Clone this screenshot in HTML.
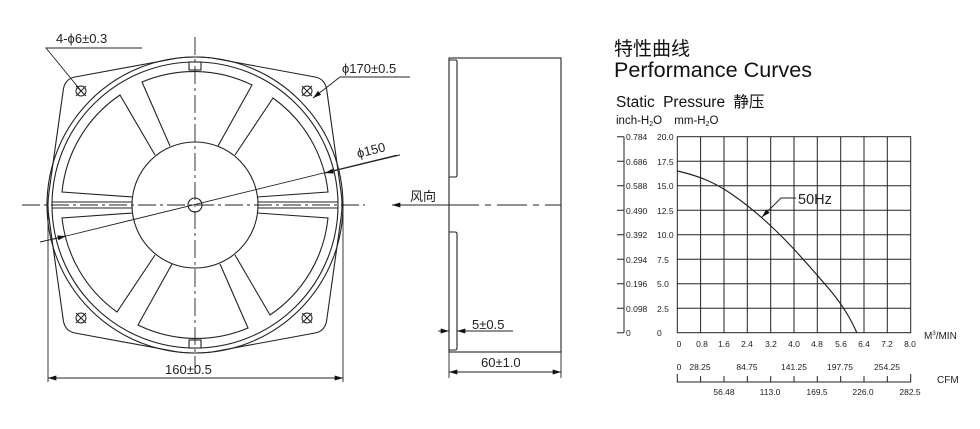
<!DOCTYPE html>
<html><head><meta charset="utf-8"><style>
html,body{margin:0;padding:0;background:#fff;}
svg{display:block;font-family:"Liberation Sans","Noto Sans CJK SC",sans-serif;}
</style></head><body>
<svg width="980" height="429" viewBox="0 0 980 429" xmlns="http://www.w3.org/2000/svg">
<defs>
<marker id="ar" viewBox="0 0 10 6" refX="10" refY="3" markerWidth="9" markerHeight="5" orient="auto-start-reverse" markerUnits="userSpaceOnUse"><path d="M0,0 L10,3 L0,6 Z" fill="#111"/></marker>
</defs>
<g fill="none" stroke="#222" stroke-width="1.1">
<path d="M75,77 L178,58 Q195,56 212,58 L315,77 Q326,79 327,92 L341,192 Q343,205 341,218 L327,318 Q326,331 315,333 L212,352 Q195,354 178,352 L75,333 Q64,331 63,318 L49,218 Q47,205 49,192 L63,92 Q64,79 75,77 Z"/>
<circle cx="195" cy="205" r="148"/>
<circle cx="195" cy="205" r="143"/>
<circle cx="195" cy="205" r="63"/>
<circle cx="195" cy="205" r="7"/>
<rect x="189" y="62" width="12" height="8" fill="#fff"/>
<rect x="189" y="340" width="12" height="8" fill="#fff"/>
<g transform="translate(195,205)">
<path d="M-25,-59 L-53,-123 A133,133 0 0 1 57,-120 L23,-59"/>
<path d="M40,-50 L78,-107 A133,133 0 0 1 133,-13 L62,-8"/>
<path d="M62,8 L133,13 A133,133 0 0 1 75,110 L40,50"/>
<path d="M25,59 L53,123 A133,133 0 0 1 -57,120 L-23,59"/>
<path d="M-40,50 L-78,107 A133,133 0 0 1 -133,13 L-62,8"/>
<path d="M-62,-8 L-133,-13 A133,133 0 0 1 -75,-110 L-40,-50"/>
<line x1="-143" y1="-3" x2="-63" y2="-3"/><line x1="-143" y1="3" x2="-63" y2="3"/>
<line x1="63" y1="-3" x2="143" y2="-3"/><line x1="63" y1="3" x2="143" y2="3"/>
</g>
<g stroke-width="1">
<circle cx="81" cy="91" r="5"/><path d="M76,86 L86,96 M86,86 L76,96"/>
<circle cx="307" cy="91" r="5"/><path d="M302,86 L312,96 M312,86 L302,96"/>
<circle cx="81" cy="318" r="5"/><path d="M76,313 L86,323 M86,313 L76,323"/>
<circle cx="307" cy="318" r="5"/><path d="M302,313 L312,323 M312,313 L302,323"/>
</g>
<g stroke-width="0.9" stroke-dasharray="18,4,3,4">
<line x1="195" y1="37" x2="195" y2="376"/>
<line x1="22" y1="205" x2="365" y2="205"/>
</g>
<g stroke-width="0.9">
<line x1="48" y1="210" x2="48" y2="382"/>
<line x1="343" y1="210" x2="343" y2="382"/>
<line x1="48" y1="378" x2="343" y2="378" marker-start="url(#ar)" marker-end="url(#ar)"/>
<path d="M142,48 L46,48 L82,92"/>
<path d="M410,77 L340,77 L313,98" marker-end="url(#ar)"/>
<line x1="397" y1="155" x2="50" y2="240"/>
<line x1="400" y1="155" x2="325" y2="173" marker-end="url(#ar)"/>
<line x1="40" y1="242" x2="66" y2="236" marker-end="url(#ar)"/>
</g>
<rect x="449" y="58" width="112" height="294"/>
<path d="M449,60 L456,60 Q457,60 457,62 L457,175 Q457,177 455,177 L449,177"/>
<path d="M449,232 L455,232 Q457,232 457,234 L457,348 Q457,350 455,350 L449,350"/>
<line x1="449" y1="205" x2="561" y2="205" stroke-dasharray="30,6,6,6" stroke-width="0.9"/>
<line x1="449" y1="205" x2="392" y2="205" marker-end="url(#ar)" stroke-width="0.9"/>
<g stroke-width="0.9">
<line x1="438" y1="331" x2="449" y2="331" marker-end="url(#ar)"/>
<line x1="513" y1="331" x2="457" y2="331" marker-end="url(#ar)"/>
<line x1="449" y1="352" x2="449" y2="378"/>
<line x1="561" y1="352" x2="561" y2="378"/>
<line x1="449" y1="372" x2="561" y2="372" marker-start="url(#ar)" marker-end="url(#ar)"/>
</g>
</g>
<g fill="#222" font-size="13">
<text x="56" y="43">4-ϕ6±0.3</text>
<text x="342" y="73">ϕ170±0.5</text>
<text x="358" y="158" transform="rotate(-14 358 158)">ϕ150</text>
<text x="165" y="374">160±0.5</text>
<text x="410" y="201" font-size="13">风向</text>
<text x="472" y="329">5±0.5</text>
<text x="481" y="367">60±1.0</text>
</g>
<g fill="#111">
<text x="614" y="55" font-size="19">特性曲线</text>
<text x="614" y="77" font-size="21.6">Performance Curves</text>
<text x="616" y="107" font-size="15.5" word-spacing="4">Static Pressure 静压</text>
<text x="616" y="124" font-size="11.5" word-spacing="9">inch-H<tspan font-size="7" dy="2">2</tspan><tspan dy="-2">O</tspan> mm-H<tspan font-size="7" dy="2">2</tspan><tspan dy="-2">O</tspan></text>
</g>
<g stroke="#222" stroke-width="1" fill="none">
<rect x="677.3" y="136.7" width="233.4" height="196"/>
<path d="M700.6,136.7V332.7M724,136.7V332.7M747.3,136.7V332.7M770.7,136.7V332.7M794,136.7V332.7M817.3,136.7V332.7M840.7,136.7V332.7M864,136.7V332.7M887.3,136.7V332.7"/>
<path d="M677.3,161.2H910.7M677.3,185.7H910.7M677.3,210.2H910.7M677.3,234.7H910.7M677.3,259.2H910.7M677.3,283.7H910.7M677.3,308.2H910.7"/>
<path d="M624,136.7V332.7M617,136.7H624M617,161.2H624M617,185.7H624M617,210.2H624M617,234.7H624M617,259.2H624M617,283.7H624M617,308.2H624M617,332.7H624"/>
<path d="M677.3,374V382H910.7V374M700.6,376V382M724,376V382M747.3,376V382M770.7,376V382M794,376V382M817.3,376V382M840.7,376V382M864,376V382M887.3,376V382"/>
<path d="M677.3,171 C700,176 715,183 730,193 C770,220 800,255 830,290 C845,308 852,322 857,333" stroke-width="1.2"/>
<path d="M796,198 L781,198 L762,217" marker-end="url(#ar)"/>
</g>
<g fill="#222" font-size="8.5">
<text x="626" y="140">0.784</text><text x="626" y="165">0.686</text><text x="626" y="189">0.588</text>
<text x="626" y="214">0.490</text><text x="626" y="238">0.392</text><text x="626" y="263">0.294</text>
<text x="626" y="287">0.196</text><text x="626" y="312">0.098</text><text x="626" y="336">0</text>
<text x="657" y="140">20.0</text><text x="657" y="165">17.5</text><text x="657" y="189">15.0</text>
<text x="657" y="214">12.5</text><text x="657" y="238">10.0</text><text x="657" y="263">7.5</text>
<text x="657" y="287">5.0</text><text x="657" y="312">2.5</text><text x="657" y="336">0</text>
<g text-anchor="middle">
<text x="679" y="347">0</text><text x="702" y="347">0.8</text><text x="724" y="347">1.6</text><text x="747" y="347">2.4</text>
<text x="771" y="347">3.2</text><text x="794" y="347">4.0</text><text x="817" y="347">4.8</text><text x="841" y="347">5.6</text>
<text x="864" y="347">6.4</text><text x="887" y="347">7.2</text><text x="910" y="347">8.0</text>
<text x="679" y="370">0</text><text x="700" y="370">28.25</text><text x="747" y="370">84.75</text><text x="794" y="370">141.25</text>
<text x="840" y="370">197.75</text><text x="887" y="370">254.25</text>
<text x="724" y="395">56.48</text><text x="770" y="395">113.0</text><text x="817" y="395">169.5</text>
<text x="863" y="395">226.0</text><text x="910" y="395">282.5</text>
</g>
<text x="924" y="339" font-size="10">M<tspan font-size="6" dy="-4">3</tspan><tspan dy="4">/MIN</tspan></text>
<text x="937" y="383" font-size="10">CFM</text>
<text x="798" y="204" font-size="14.5">50Hz</text>
</g>
</svg>
</body></html>
